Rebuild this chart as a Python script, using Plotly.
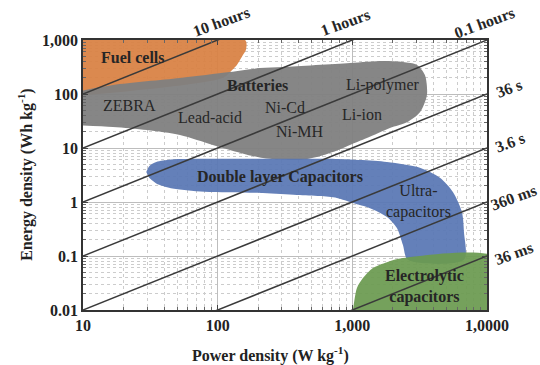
import numpy as np
import plotly.graph_objects as go

# ---- data (power density W/kg, energy density Wh/kg) ----
fuel_P = [8, 160, 162, 154, 139, 128, 110, 8]
fuel_E = [1000, 1000, 653, 527, 345, 278, 200, 90]

batt_P = [8, 16.7, 52.5, 123, 206, 305, 960, 1688, 2376, 3020, 3459, 3580, 3177, 2543, 1902,
          1283, 960, 718, 546, 408, 217, 123, 92, 52.5, 29.9, 16.7, 8]
batt_E = [104, 147, 198, 255, 303, 316, 375, 408, 391, 345, 225, 96, 46, 30, 23.5,
          15.3, 11.4, 8.4, 6.8, 6.0, 6.5, 9.2, 11.4, 17.4, 21.5, 24.5, 26.7]

edlc_P = [29.5, 31, 35, 45, 80, 400, 682, 1807, 3177, 4470, 5580, 6510, 6740, 6740, 2587, 2376,
          2143, 1807, 1352, 1010, 769, 574, 388, 217, 80, 45, 35, 31]
edlc_E = [3.6, 4.6, 5.5, 6.1, 6.3, 6.3, 6.3, 5.5, 4.3, 2.8, 1.53, 0.65, 0.28, 0.085, 0.085, 0.16,
          0.33, 0.53, 0.77, 0.96, 1.19, 1.29, 1.35, 1.47, 1.55, 1.8, 2.2, 2.8]

elec_P = [990, 1010, 1082, 1199, 1422, 1807, 2376, 12000, 12000]
elec_E = [0.008, 0.01, 0.0255, 0.039, 0.06, 0.077, 0.092, 0.092, 0.008]

discharge_hours = [10, 1, 0.1, 0.01, 0.001, 0.0001, 0.00001]
line_P = [10, 10000]

x_tickvals = [10, 100, 1000, 10000]
x_ticktext = ["10", "100", "1,000", "1,0000"]
y_tickvals = [0.01, 0.1, 1, 10, 100, 1000]
y_ticktext = ["0.01", "0.1", "1", "10", "100", "1,000"]
minor_digits = [2, 3, 4, 5, 6, 7, 8, 9]

labels = [("Fuel cells", 23.5, 484, True), ("Batteries", 199, 141, True),
          ("ZEBRA", 22.3, 62.5, False), ("Lead-acid", 87.7, 36, False),
          ("Ni-Cd", 316, 57.4, False), ("Ni-MH", 408, 19.8, False),
          ("Li-polymer", 1688, 147, False), ("Li-ion", 1178, 42.6, False),
          ("Double layer Capacitors", 290, 2.9, True),
          ("Ultra-<br>capacitors", 3120, 1.04, False),
          ("Electrolytic<br>capacitors", 3460, 0.0267, True)]

time_labels = [("10 hours", 0.344, 1.067), ("1 hours", 0.649, 1.063), ("0.1 hours", 0.995, 1.063),
               ("36 s", 1.054, 0.822), ("3.6 s", 1.057, 0.619), ("360 ms", 1.066, 0.415),
               ("36 ms", 1.066, 0.211)]

x_title = "Power density (W kg<sup>-1</sup>)"
y_title = "Energy density (Wh kg<sup>-1</sup>)"

FONT = "Liberation Serif"

fig = go.Figure()

def region(P, E, color):
    fig.add_trace(go.Scatter(x=P, y=E, mode="lines", fill="toself", fillcolor=color,
                             line=dict(width=0, color=color, shape="spline", smoothing=0.8),
                             hoverinfo="skip", showlegend=False))

region(fuel_P, fuel_E, "rgba(216,128,66,0.93)")
region(batt_P, batt_E, "rgba(127,127,127,0.95)")
region(edlc_P, edlc_E, "rgba(88,118,180,0.93)")
region(elec_P, elec_E, "rgba(106,154,80,0.93)")

for t in discharge_hours:
    fig.add_trace(go.Scatter(x=line_P, y=[t * p for p in line_P], mode="lines",
                             line=dict(color="#3a3a3a", width=1.5),
                             hoverinfo="skip", showlegend=False))

for txt, px, py, bold in labels:
    fig.add_annotation(x=np.log10(px), y=np.log10(py), xref="x", yref="y", text=txt,
                       showarrow=False, xanchor="center", yanchor="middle",
                       font=dict(family=FONT, size=16, color="#262626",
                                 weight="bold" if bold else "normal"))

for txt, xp, yp in time_labels:
    fig.add_annotation(x=xp, y=yp, xref="paper", yref="paper", text=txt, showarrow=False,
                       xanchor="center", yanchor="middle",
                       textangle=-20, font=dict(family=FONT, size=16, color="#262626", weight="bold"))

title_font = dict(family=FONT, size=16, color="#222222", weight="bold")
fig.add_annotation(x=0.465, y=-0.163, xref="paper", yref="paper", text=x_title, showarrow=False,
                   xanchor="center", yanchor="middle", font=title_font)
fig.add_annotation(x=-0.144, y=0.5, xref="paper", yref="paper", text=y_title, showarrow=False,
                   xanchor="center", yanchor="middle", textangle=-90, font=title_font)

def minor_vals(lo, hi):
    return [d * 10.0 ** k for k in range(lo, hi) for d in minor_digits]

axis_common = dict(type="log", showline=True, linecolor="#333333", linewidth=1.5, mirror="allticks",
                   ticks="inside", ticklen=5, tickcolor="#444444", automargin=False,
                   showgrid=True, gridcolor="#bdbdbd", gridwidth=1, zeroline=False,
                   tickfont=dict(family=FONT, size=16, color="#222222", weight="bold"))

fig.update_xaxes(range=[1, 4], tickmode="array", tickvals=x_tickvals, ticktext=x_ticktext,
                 minor=dict(tickmode="array", tickvals=minor_vals(1, 4), showgrid=True,
                            gridcolor="#cccccc", griddash="dot", gridwidth=1,
                            ticks="inside", ticklen=3, tickcolor="#666666"),
                 **axis_common)
fig.update_yaxes(range=[-2, 3], tickmode="array", tickvals=y_tickvals, ticktext=y_ticktext,
                 minor=dict(tickmode="array", tickvals=minor_vals(-2, 3), showgrid=True,
                            gridcolor="#cccccc", griddash="dot", gridwidth=1,
                            ticks="inside", ticklen=3, tickcolor="#666666"),
                 **axis_common)

fig.update_layout(width=540, height=365, margin=dict(l=83, r=53, t=40, b=55),
                  plot_bgcolor="white", paper_bgcolor="white", showlegend=False)

fig.write_html("out.html", config={"displayModeBar": False},
               post_script="document.body.style.margin='0';")
